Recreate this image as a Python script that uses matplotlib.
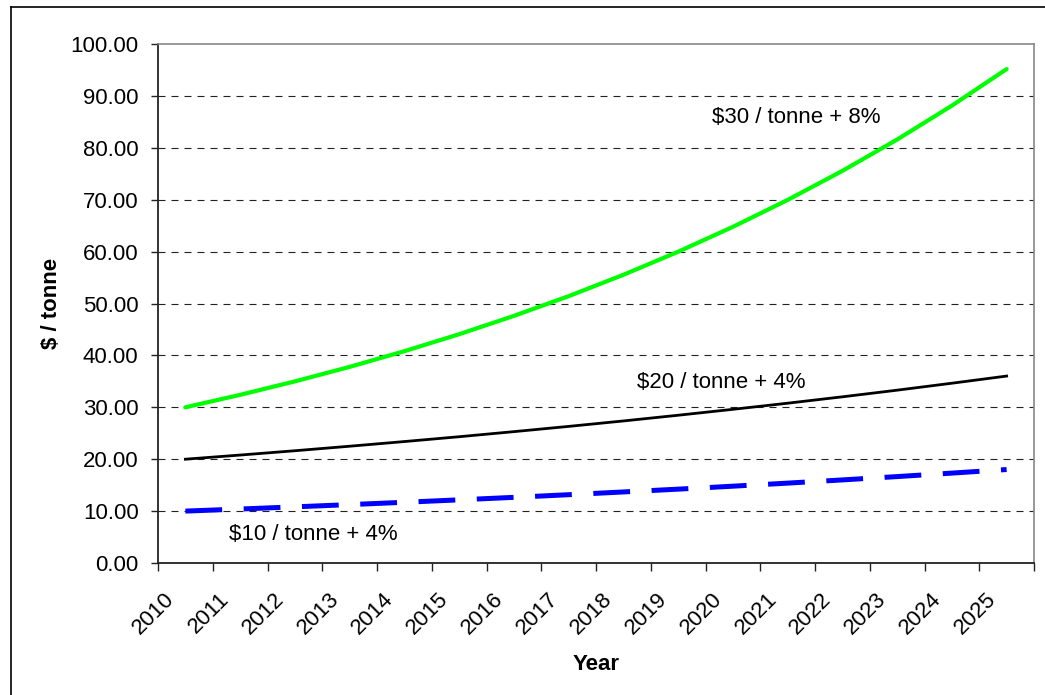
import matplotlib
matplotlib.use("Agg")
import matplotlib.pyplot as plt
from matplotlib.lines import Line2D
from matplotlib.transforms import ScaledTranslation

plt.rcParams['font.family'] = ['Liberation Sans', 'DejaVu Sans']

years = ['2010', '2011', '2012', '2013', '2014', '2015', '2016', '2017',
         '2018', '2019', '2020', '2021', '2022', '2023', '2024', '2025']
price_30_8 = [30.00, 32.40, 34.99, 37.79, 40.81, 44.08, 47.61, 51.41,
              55.53, 59.97, 64.77, 69.95, 75.55, 81.59, 88.12, 95.17]
price_20_4 = [20.00, 20.80, 21.63, 22.50, 23.40, 24.33, 25.31, 26.32,
              27.37, 28.47, 29.61, 30.79, 32.02, 33.30, 34.64, 36.02]
price_10_4 = [10.00, 10.40, 10.82, 11.25, 11.70, 12.17, 12.65, 13.16,
              13.69, 14.23, 14.80, 15.39, 16.01, 16.65, 17.32, 18.01]
y_ticks = [0, 10, 20, 30, 40, 50, 60, 70, 80, 90, 100]

FS = 16
W, H = 1045, 695
fig = plt.figure(figsize=(W / 100, H / 100), dpi=100)
fig.patch.set_facecolor('white')

# outer chart-area border (left and top edges fall inside the canvas)
fig.add_artist(Line2D([11 / W, 11 / W], [0, 1 - 7 / H], transform=fig.transFigure,
                      color='black', lw=1.2))
fig.add_artist(Line2D([11 / W, 1], [1 - 7 / H, 1 - 7 / H], transform=fig.transFigure,
                      color='black', lw=1.2))

left, right, top, bottom = 158, 1034, 44, 563
ax = fig.add_axes([left / W, 1 - bottom / H, (right - left) / W, (bottom - top) / H])

x = list(range(len(years)))
ax.plot(x, price_30_8, color='#00ff00', lw=3.0, solid_capstyle='round', zorder=4)
ax.plot(x, price_20_4, color='black', lw=2.0, zorder=4)
lw_b = 3.6
ax.plot(x, price_10_4, color='#0000ff', lw=lw_b, dashes=(26.5 / lw_b, 15.5 / lw_b),
        solid_capstyle='butt', dash_capstyle='butt', zorder=4)

ax.set_xlim(-0.5, len(years) - 0.5)
ax.set_ylim(0, 100)

# gridlines
for v in y_ticks[1:-1]:
    ax.axhline(v, color='#222222', lw=0.8, dashes=(6.3, 5.4), zorder=1)

# y axis
ax.set_yticks(y_ticks)
ax.set_yticklabels([f'{v:.2f}' for v in y_ticks], fontsize=FS)
ax.tick_params(axis='y', direction='out', length=5, width=1, pad=9, colors='#222222',
               labelcolor='black')

# category axis: ticks on boundaries, labels at centres
ax.set_xticks([i - 0.5 for i in range(len(years) + 1)])
ax.set_xticklabels([])
ax.set_xticks(x, minor=True)
ax.set_xticklabels(years, minor=True, fontsize=FS, rotation=45, ha='right',
                   va='center', rotation_mode='anchor')
ax.tick_params(axis='x', which='major', direction='out', length=6, width=1, colors='#222222')
ax.tick_params(axis='x', which='minor', length=0, pad=24)
shift = ScaledTranslation(-14 / 100, 0, fig.dpi_scale_trans)
for lab in ax.get_xticklabels(minor=True):
    lab.set_transform(lab.get_transform() + shift)

for s in ('left', 'bottom'):
    ax.spines[s].set_color('#222222')
    ax.spines[s].set_linewidth(1.3)
for s in ('top', 'right'):
    ax.spines[s].set_color('#888888')
    ax.spines[s].set_linewidth(1.2)

ax.set_xlabel('Year', fontsize=FS, fontweight='bold', labelpad=11)
ax.set_ylabel('$ / tonne', fontsize=FS, fontweight='bold', labelpad=6)

ax.text(9.62, 85.9, '$30 / tonne + 8%', fontsize=FS, va='center', ha='left')
ax.text(8.25, 34.7, '$20 / tonne + 4%', fontsize=FS, va='center', ha='left')
ax.text(0.80, 5.4, '$10 / tonne + 4%', fontsize=FS, va='center', ha='left')

fig.savefig('out.png', dpi=100, facecolor='white')
